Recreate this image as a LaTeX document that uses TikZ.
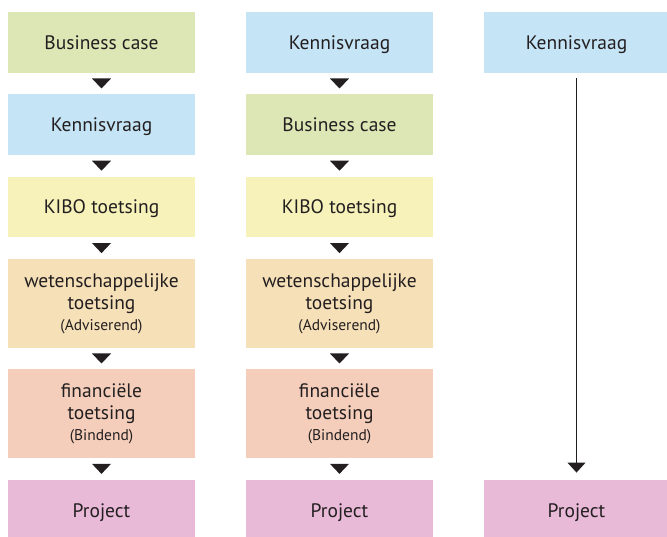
\documentclass[tikz,border=0pt]{standalone}
\usepackage{fontspec}
\setmainfont{PT Sans}
\usetikzlibrary{calc,arrows.meta}
\definecolor{cgreen}{HTML}{DDE6B5}
\definecolor{cblue}{HTML}{C5E4F6}
\definecolor{cyellow}{HTML}{F6F2BA}
\definecolor{corange}{HTML}{F6E0B8}
\definecolor{csalmon}{HTML}{F4CEBA}
\definecolor{cpink}{HTML}{E9BAD8}
\definecolor{ctext}{HTML}{231F20}
\newcommand{\smalltxt}{\fontsize{15.5}{21}\selectfont}
\begin{document}
\begin{tikzpicture}[x=1pt,y=-1pt,
  box/.style={draw=none,minimum width=187pt,inner sep=0pt,align=center,
    text=ctext,font=\fontsize{19.5}{22}\selectfont},
  h60/.style={minimum height=60.5pt,text height=14pt,text depth=0pt},
  h89/.style={minimum height=89pt},
  tri/.style={fill=ctext},
  longarrow/.style={draw=ctext,line width=1pt,-{Triangle[width=18pt,length=10pt]}}]
\useasboundingbox (0,0) rectangle (667,537);
\newcommand{\downtri}[2]{%
  \coordinate (m) at ($(#1.south)!0.5!(#2.north)$);
  \fill[tri] ($(m)+(-9.5,-5)$) -- ($(m)+(9.5,-5)$) -- ($(m)+(0,5)$) -- cycle;}
% column 1
\node[box,h60,fill=cgreen] (a1) at (101.5,42.5) {Business case};
\node[box,h60,fill=cblue] (a2) at (101.5,124.5) {Kennisvraag};
\node[box,h60,fill=cyellow] (a3) at (101.5,207) {KIBO toetsing};
\node[box,h89,fill=corange] (a4) at (101.5,303.5) {wetenschappelijke\\toetsing\\[-1pt]{\smalltxt (Adviserend)}};
\node[box,h89,fill=csalmon] (a5) at (101.5,413.5) {financiële\\toetsing\\[-1pt]{\smalltxt (Bindend)}};
\node[box,h60,fill=cpink] (a6) at (101.5,510) {Project};
% column 2
\node[box,h60,fill=cblue] (b1) at (339.5,42.5) {Kennisvraag};
\node[box,h60,fill=cgreen] (b2) at (339.5,124.5) {Business case};
\node[box,h60,fill=cyellow] (b3) at (339.5,207) {KIBO toetsing};
\node[box,h89,fill=corange] (b4) at (339.5,303.5) {wetenschappelijke\\toetsing\\[-1pt]{\smalltxt (Adviserend)}};
\node[box,h89,fill=csalmon] (b5) at (339.5,413.5) {financiële\\toetsing\\[-1pt]{\smalltxt (Bindend)}};
\node[box,h60,fill=cpink] (b6) at (339.5,510) {Project};
% column 3
\node[box,h60,fill=cblue,minimum width=185pt] (c1) at (576.5,42.5) {Kennisvraag};
\node[box,h60,fill=cpink,minimum width=185pt] (c6) at (576.5,510) {Project};
% connectors
\downtri{a1}{a2}\downtri{a2}{a3}\downtri{a3}{a4}\downtri{a4}{a5}\downtri{a5}{a6}
\downtri{b1}{b2}\downtri{b2}{b3}\downtri{b3}{b4}\downtri{b4}{b5}\downtri{b5}{b6}
\draw[longarrow,shorten <=5pt,shorten >=7pt] (c1.south) -- (c6.north);
\end{tikzpicture}
\end{document}
